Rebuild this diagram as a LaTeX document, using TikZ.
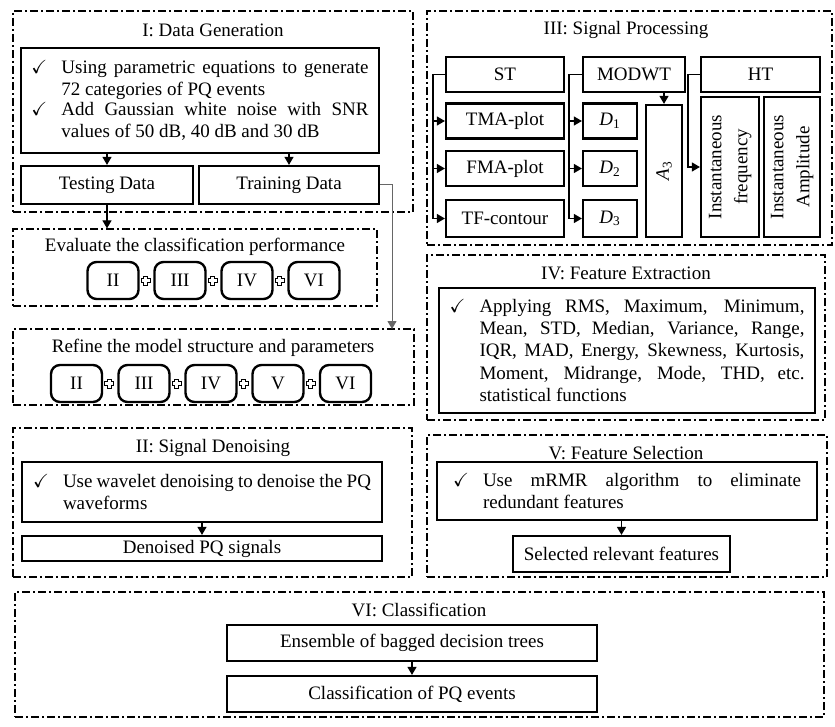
\documentclass[tikz,border=0pt]{standalone}
\usepackage{fontspec}
\setmainfont{Liberation Serif}
\usepackage{amssymb}
\usepackage{graphicx}
\usetikzlibrary{arrows.meta}
\newcommand{\chkitem}[1]{\noindent\makebox[15pt][l]{$\checkmark$}\parbox[t]{\dimexpr\hsize-15pt\relax}{#1}\par}

\begin{document}
\begin{tikzpicture}[
  x=0.5pt,y=-0.5pt,
  wh/.style 2 args={minimum width=#1*0.5pt,minimum height=#2*0.5pt},
  group/.style={draw,line width=0.6pt,dash pattern=on 4pt off 1.5pt on 1pt off 1.5pt,inner sep=0pt},
  heading/.style={inner sep=0pt,font=\fontsize{9.5}{11}\selectfont},
  blk/.style={draw,line width=1.1pt,inner sep=0pt,align=center,font=\fontsize{9.5}{11}\selectfont},
  stage/.style={blk,rounded corners=4.5pt,line width=1.2pt},
  chk/.style={blk,align=justify,text width=#1},
  arr/.style={-{Triangle[length=4pt,width=4.5pt]},line width=0.6pt},
  plusmark/.pic={\draw[line width=0.45pt,fill=white] (-1.8,-4.5) -- (1.8,-4.5) -- (1.8,-1.8) -- (4.5,-1.8) -- (4.5,1.8) -- (1.8,1.8) -- (1.8,4.5) -- (-1.8,4.5) -- (-1.8,1.8) -- (-4.5,1.8) -- (-4.5,-1.8) -- (-1.8,-1.8) -- cycle;}
]
  \fill[white] (0,0) rectangle (835,727);
  \useasboundingbox (0,0) rectangle (835,727);

  % stage groups
  \node[group,wh={400}{201}] (grpI) at (213,111.5) {};
  \node[group,wh={364}{77}] (grpeval) at (195,267.5) {};
  \node[group,wh={401}{76}] (grprefine) at (213.5,367) {};
  \node[group,wh={399}{149}] (grpII) at (212.5,502.5) {};
  \node[group,wh={405}{234}] (grpIII) at (629.5,128) {};
  \node[group,wh={398}{165}] (grpIV) at (626,337.5) {};
  \node[group,wh={400}{142}] (grpV) at (627,506) {};
  \node[group,wh={809}{125}] (grpVI) at (419.5,654.5) {};

  \node[heading] (tI) at (213,30) {I: Data Generation};
  \node[heading] (teval) at (195,247) {Evaluate the classification performance};
  \node[heading] (trefine) at (213,348) {Refine the model structure and parameters};
  \node[heading] (tII) at (213,448) {II: Signal Denoising};
  \node[heading] (tIII) at (626,30) {III: Signal Processing};
  \node[heading] (tIV) at (626,273) {IV: Feature Extraction};
  \node[heading] (tV) at (626,453) {V: Feature Selection};
  \node[heading] (tVI) at (419,610) {VI: Classification};

  % I: data generation
  \node[chk=168.5pt,wh={358}{105}] (gen) at (200,100.5) {%
    \chkitem{Using parametric equations to generate\linebreak 72 categories of PQ events}
    \chkitem{Add Gaussian white noise with SNR\linebreak values of 50 dB, 40 dB and 30 dB}};
  \node[blk,wh={172}{38}] (testing) at (107,185) {Testing Data};
  \node[blk,wh={180}{38}] (training) at (289,185) {Training Data};
  \draw[arr] (gen.south -| testing) -- (testing.north);
  \draw[arr] (gen.south -| training) -- (training.north);

  % evaluation and refinement
  \foreach \lab/\xx [count=\i] in {II/113,III/180,IV/247,VI/314}
    \node[stage,wh={51}{37}] (ev\i) at (\xx,280.5) {\lab};
  \foreach \i in {1,2,3}
    \pic at ([xshift=3pt]ev\i.east) {plusmark};
  \foreach \lab/\xx [count=\i] in {II/76.5,III/144,IV/211,V/278,VI/345.5}
    \node[stage,wh={51}{37}] (rf\i) at (\xx,383.5) {\lab};
  \foreach \i in {1,2,3,4}
    \pic at ([xshift=3pt]rf\i.east) {plusmark};
  \draw[arr] (testing.south) -- (testing.south |- grpeval.north);
  \coordinate (refdrop) at (392,329);
  \draw[arr,draw=black!60,line width=0.5pt] (training.east) -| (refdrop);

  % II: signal denoising
  \node[chk=169pt,wh={360}{60}] (den) at (202,492) {%
    \chkitem{Use wavelet denoising to denoise the PQ\linebreak waveforms}};
  \node[blk,wh={360}{25}] (denout) at (202,548.5) {Denoised PQ signals};
  \draw[arr] (den.south) -- (denout.north);

  % III: signal processing
  \node[blk,wh={118}{35}] (st) at (505,74.5) {ST};
  \node[blk,wh={118}{35}] (tma) at (505,121) {TMA-plot};
  \node[blk,wh={118}{35}] (fma) at (505,168.5) {FMA-plot};
  \node[blk,wh={118}{37}] (tf) at (505,218.5) {TF-contour};
  \node[blk,wh={102}{35}] (modwt) at (634,74.5) {MODWT};
  \node[blk,wh={54}{35}] (d1) at (610,121) {\textit{D}\textsubscript{1}};
  \node[blk,wh={54}{35}] (d2) at (610,168.5) {\textit{D}\textsubscript{2}};
  \node[blk,wh={54}{37}] (d3) at (610,218.5) {\textit{D}\textsubscript{3}};
  \node[blk,wh={36}{132}] (a3) at (664,171) {\rotatebox{90}{\textit{A}\textsubscript{3}}};
  \node[blk,wh={119}{35}] (ht) at (760.5,74.5) {HT};
  \node[blk,wh={58}{140}] (ifreq) at (730,167) {\rotatebox{90}{\begin{tabular}{@{}c@{}}Instantaneous\\[2pt]frequency\end{tabular}}};
  \node[blk,wh={56}{140}] (iamp) at (792,167) {\rotatebox{90}{\begin{tabular}{@{}c@{}}Instantaneous\\[2pt]Amplitude\end{tabular}}};

  \coordinate (stbus) at (433,74.5);
  \draw[arr] (st.west) -- (stbus) |- (tf.west);
  \draw[arr] (stbus |- tma.west) -- (tma.west);
  \draw[arr] (stbus |- fma.west) -- (fma.west);
  \coordinate (mdbus) at (569,74.5);
  \draw[arr] (modwt.west) -- (mdbus) |- (d3.west);
  \draw[arr] (mdbus |- d1.west) -- (d1.west);
  \draw[arr] (mdbus |- d2.west) -- (d2.west);
  \draw[arr] (modwt.south -| a3) -- (a3.north);
  \coordinate (htbus) at (688,74.5);
  \draw[arr] (ht.west) -- (htbus) |- (ifreq.west);

  % IV: feature extraction
  \node[chk=177.5pt,wh={376}{125}] (feat) at (627,350.5) {%
    \chkitem{Applying RMS, Maximum, Minimum,\linebreak Mean, STD, Median, Variance, Range,\linebreak IQR, MAD, Energy, Skewness, Kurtosis,\linebreak Moment, Midrange, Mode, THD, etc.\linebreak statistical functions}};

  % V: feature selection
  \node[chk=174pt,wh={380}{58}] (sel) at (627,491) {%
    \chkitem{Use mRMR algorithm to eliminate\linebreak redundant features}};
  \node[blk,wh={217}{36}] (selout) at (621.5,554) {Selected relevant features};
  \draw[arr] (sel.south -| selout) -- (selout.north);

  % VI: classification
  \node[blk,wh={370}{36}] (ensemble) at (412,643) {Ensemble of bagged decision trees};
  \node[blk,wh={370}{36}] (classout) at (412,694) {Classification of PQ events};
  \draw[arr] (ensemble.south) -- (classout.north);
\end{tikzpicture}
\end{document}
